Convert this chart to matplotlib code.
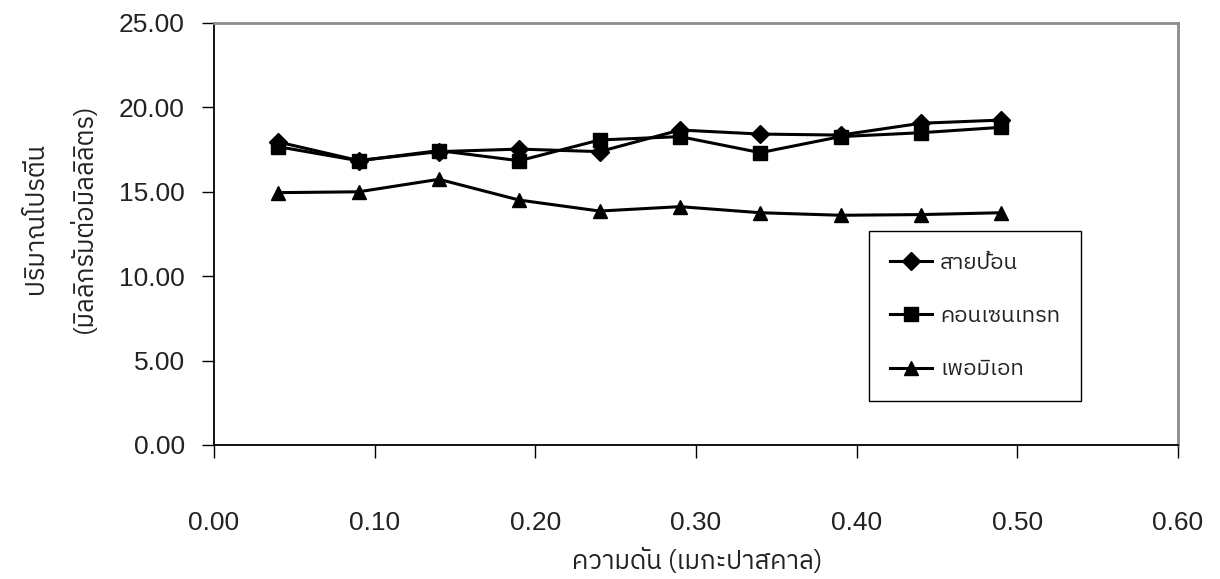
import matplotlib
matplotlib.use("Agg")
import matplotlib.pyplot as plt
from matplotlib import font_manager

# pressure (MPa) and protein content (mg/ml)
pressure = [0.04, 0.09, 0.14, 0.19, 0.24, 0.29, 0.34, 0.39, 0.44, 0.49]
feed = [17.95, 16.85, 17.38, 17.53, 17.38, 18.66, 18.42, 18.36, 19.06, 19.25]
concentrate = [17.67, 16.84, 17.44, 16.84, 18.07, 18.27, 17.32, 18.27, 18.50, 18.82]
permeate = [14.95, 15.00, 15.74, 14.51, 13.86, 14.12, 13.76, 13.61, 13.65, 13.76]

series_labels = ["สายป้อน", "คอนเซนเทรท", "เพอมิเอท"]
x_label = "ความดัน (เมกะปาสคาล)"
y_label = "ปริมาณโปรตีน\n(มิลลิกรัมต่อมิลลิลิตร)"
x_ticks = [0.0, 0.1, 0.2, 0.3, 0.4, 0.5, 0.6]
y_ticks = [0, 5, 10, 15, 20, 25]


def pick_thai_font():
    # look for any installed family that covers Thai
    names = sorted({f.name for f in font_manager.fontManager.ttflist})
    for key in ("Thai", "Sarabun", "Loma", "Garuda", "Waree", "Kinnari", "Norasi", "Tlwg", "Umpush"):
        for n in names:
            if key.lower() in n.lower():
                return n
    return None


thai = pick_thai_font()
families = ([thai] if thai else []) + ["Liberation Sans", "DejaVu Sans"]
plt.rcParams['font.family'] = families

fig = plt.figure(figsize=(12.2, 5.79), dpi=100)
ax = fig.add_axes([214 / 1220, 1 - 445 / 579, (1178 - 214) / 1220, (445 - 23) / 579])

style = dict(color='black', linewidth=2.2, markersize=10.5, clip_on=False)
ax.plot(pressure, feed, marker='D', markersize=9.5, label=series_labels[0],
        color='black', linewidth=2.2, clip_on=False)
ax.plot(pressure, concentrate, marker='s', label=series_labels[1], **style)
ax.plot(pressure, permeate, marker='^', label=series_labels[2], **style)

ax.set_xlim(0, 0.6)
ax.set_ylim(0, 25)
ax.set_xticks(x_ticks)
ax.set_yticks(y_ticks)
ax.set_xticklabels([f"{v:.2f}" for v in x_ticks], fontfamily=["Liberation Sans"])
ax.set_yticklabels([f"{v:.2f}" for v in y_ticks], fontfamily=["Liberation Sans"])
ax.tick_params(axis='x', direction='out', length=9.5, width=1, pad=38,
               labelsize=19, colors='black', labelcolor='#222222')
ax.tick_params(axis='y', direction='out', length=9, width=1, pad=12,
               labelsize=19, colors='black', labelcolor='#222222')

for side in ('left', 'bottom'):
    ax.spines[side].set_color('black')
    ax.spines[side].set_linewidth(1.3)
for side in ('top', 'right'):
    ax.spines[side].set_color('#8c8c8c')
    ax.spines[side].set_linewidth(2)

fig.text(697 / 1220, 1 - 561 / 579, x_label, ha='center', va='center',
         fontsize=18.5, color='#222222')
fig.text(60 / 1220, 1 - 218 / 579, y_label, ha='center', va='center',
         rotation=90, fontsize=18.5, color='#222222', linespacing=2.0,
         multialignment='center')

leg = ax.legend(loc='upper left', bbox_to_anchor=(869 / 1220, 1 - 231 / 579),
                bbox_transform=fig.transFigure, borderaxespad=0, fontsize=16,
                frameon=True, fancybox=False, edgecolor='black', framealpha=1,
                handlelength=1.9, handletextpad=0.35, labelspacing=1.4,
                borderpad=0.95, markerscale=1.0)
leg.get_frame().set_linewidth(1)
for t in leg.get_texts():
    t.set_color('#222222')

fig.savefig("out.png", dpi=100)
